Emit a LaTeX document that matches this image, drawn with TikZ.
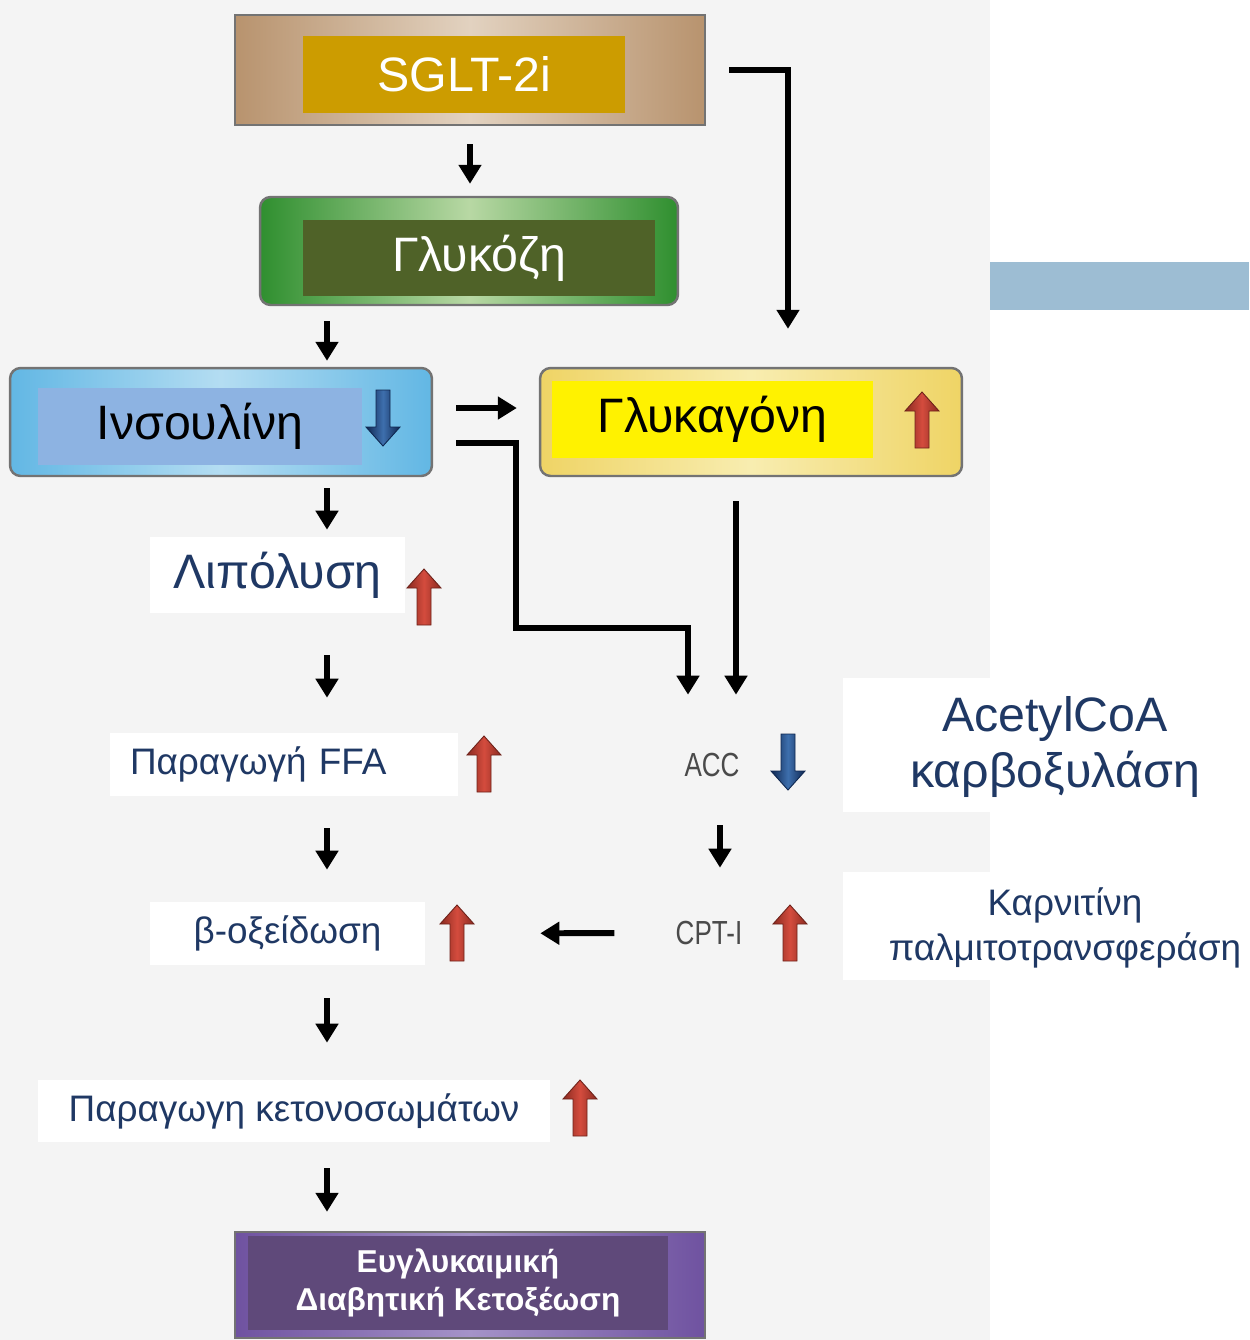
\documentclass[tikz,border=0pt]{standalone}
\usepackage{fontspec}
\setmainfont{Liberation Sans}
\usetikzlibrary{arrows.meta,positioning}

\definecolor{panelgrey}{HTML}{F4F4F4}
\definecolor{barblue}{HTML}{9DBDD3}
\definecolor{sglttan}{HTML}{B8936E}
\definecolor{sgltlight}{HTML}{E2D2C0}
\definecolor{sgltgold}{HTML}{CC9C00}
\definecolor{glucgreen}{HTML}{2F8F2F}
\definecolor{gluclight}{HTML}{B8D8A4}
\definecolor{glucolive}{HTML}{4F6228}
\definecolor{insblue}{HTML}{62B7E4}
\definecolor{inslight}{HTML}{B4DDF2}
\definecolor{insinner}{HTML}{8DB3E2}
\definecolor{glucayellow}{HTML}{EFD465}
\definecolor{glucalight}{HTML}{F8EDB0}
\definecolor{purpleout}{HTML}{6F52A0}
\definecolor{purplelight}{HTML}{A593C8}
\definecolor{purplein}{HTML}{5F497A}
\definecolor{navytext}{HTML}{1F3864}
\definecolor{accgrey}{HTML}{4A4A4A}
\definecolor{reddark}{HTML}{8A2A20}
\definecolor{redmid}{HTML}{D44C3E}
\definecolor{bluedark}{HTML}{0F2750}
\definecolor{bluemid}{HTML}{3E6FAE}

\tikzset{
  outerbox/.style={draw=black!55, line width=1.4pt, minimum width=8.44cm, minimum height=2.16cm},
  innerbox/.style={inner sep=0pt},
  bigtext/.style={font=\fontsize{27.5}{32}\selectfont},
  midtext/.style={font=\fontsize{21}{25.5}\selectfont, text=navytext},
  smalltext/.style={font=\fontsize{19}{20}\selectfont, text=accgrey, xscale=0.78, inner sep=0pt, minimum height=1.3cm},
  whitebox/.style={fill=white, inner sep=0pt},
  arr/.style={line width=3.4pt, -{Triangle[length=0.38cm, width=0.44cm]}},
  redup/.pic={
    \draw[draw=reddark!80!black, line width=0.5pt, left color=reddark, right color=reddark, middle color=redmid]
      (-7,28) -- (-7,-9) -- (-17,-9) -- (0,-28) -- (17,-9) -- (7,-9) -- (7,28) -- cycle;
  },
  bluedown/.pic={
    \draw[draw=bluedark, line width=0.5pt, left color=bluedark, right color=bluedark, middle color=bluemid]
      (-7,-28) -- (-7,9) -- (-17,9) -- (0,28) -- (17,9) -- (7,9) -- (7,-28) -- cycle;
  }
}

\begin{document}
\begin{tikzpicture}[x=0.02cm, y=-0.02cm]
  \useasboundingbox (0,0) rectangle (1249,1340);
  \fill[panelgrey] (0,0) rectangle (990,1340);
  \fill[barblue] (990,262) rectangle (1249,310);

  % top boxes
  \node[outerbox, minimum width=9.4cm, minimum height=2.2cm, left color=sglttan, right color=sglttan, middle color=sgltlight] (sgltbox) at (470,70) {};
  \node[innerbox, fill=sgltgold, minimum width=6.44cm, minimum height=1.54cm, bigtext, text=white] (sglt) at (464,74.5) {SGLT-2i};

  \node[outerbox, rounded corners=6pt, minimum width=8.36cm, left color=glucgreen, right color=glucgreen, middle color=gluclight] (glucbox) at (469,251) {};
  \node[innerbox, fill=glucolive, minimum width=7.04cm, minimum height=1.52cm, bigtext, text=white] (gluc) at (479,258) {Γλυκόζη};

  \node[outerbox, rounded corners=6pt, left color=insblue, right color=insblue, middle color=inslight] (insbox) at (221,422) {};
  \node[innerbox, fill=insinner, minimum width=6.48cm, minimum height=1.54cm, bigtext] (ins) at (200,426.5) {Ινσουλίνη};
  \pic at (383,418) {bluedown};

  \node[outerbox, rounded corners=6pt, left color=glucayellow, right color=glucayellow, middle color=glucalight] (glucabox) at (751,422) {};
  \node[innerbox, fill=yellow, minimum width=6.42cm, minimum height=1.54cm, bigtext] (gluca) at (712.5,419.5) {Γλυκαγόνη};
  \pic at (922,420) {redup};

  % left column
  \coordinate (col) at (327,0);
  \node[whitebox, minimum width=5.1cm, minimum height=1.52cm, bigtext, text=navytext] (lipo) at (277.5,575) {Λιπόλυση};
  \pic at (424,597) {redup};
  \node[whitebox, minimum width=6.96cm, minimum height=1.26cm, midtext, inner xsep=0.4cm, text width=6.16cm, align=left] (ffa) at (284,764.5) {Παραγωγή FFA};
  \pic at (484,764) {redup};
  \node[whitebox, minimum width=5.5cm, minimum height=1.26cm, midtext] (beta) at (287.5,933.5) {β-οξείδωση};
  \pic at (457,933) {redup};
  \node[whitebox, minimum width=10.24cm, minimum height=1.24cm, midtext] (keto) at (294,1111) {Παραγωγη κετονοσωμάτων};
  \pic at (580,1108) {redup};

  \node[outerbox, minimum width=9.4cm, minimum height=2.12cm, left color=purpleout, right color=purpleout, middle color=purplelight] (dkabox) at (470,1285) {};
  \node[innerbox, fill=purplein, minimum width=8.4cm, minimum height=1.88cm, text=white, align=center, font=\bfseries\fontsize{18}{21.5}\selectfont] (dka) at (458,1283) {Ευγλυκαιμική\\Διαβητική Κετοξέωση};

  % right column
  \node[smalltext] (acc) at (712,765) {ACC};
  \pic at (788,762) {bluedown};
  \node[smalltext] (cpt) at (709,933) {CPT-I};
  \pic at (790,933) {redup};
  \node[whitebox, minimum width=8.12cm, minimum height=2.68cm] (accbox) at (1046,745) {};
  \node[bigtext, text=navytext, align=center] (acctxt) at (1055,747) {AcetylCoA\\καρβοξυλάση};
  \node[whitebox, minimum width=8.12cm, minimum height=2.16cm] (cptbox) at (1046,926) {};
  \node[midtext, align=center] (cpttxt) at (1065,928) {Καρνιτίνη\\παλμιτοτρανσφεράση};

  % connectors
  \draw[arr, shorten <=0.36cm, shorten >=0.24cm] (sgltbox.south) -- (sgltbox.south |- glucbox.north);
  \draw[arr] ([xshift=0.46cm]sgltbox.east) -| ([xshift=0.74cm, yshift=0.76cm]glucabox.north);
  \draw[arr, shorten <=0.3cm, shorten >=0.12cm] (glucbox.south -| col) -- (insbox.north -| col);
  \draw[arr, shorten <=0.46cm, shorten >=0.44cm] ([yshift=0.28cm]insbox.east) -- ([yshift=0.28cm]glucabox.west);
  \draw[arr, shorten >=0.75cm] ([xshift=0.46cm, yshift=-0.42cm]insbox.east) -- ++(60,0) -- ++(0,185) -| ([xshift=-0.48cm]acc.north);
  \coordinate (gdown) at ([xshift=-0.3cm]glucabox.south);
  \draw[arr, shorten <=0.48cm, shorten >=0.75cm] (gdown) -- (gdown |- acc.north);
  \draw[arr, shorten <=0.22cm, shorten >=0.14cm] (insbox.south -| col) -- (lipo.north -| col);
  \draw[arr, shorten <=0.84cm, shorten >=0.7cm] (lipo.south -| col) -- (ffa.north -| col);
  \draw[arr, shorten <=0.64cm, shorten >=0.64cm] (ffa.south -| col) -- (beta.north -| col);
  \draw[arr, shorten <=0.66cm, shorten >=0.74cm] (beta.south -| col) -- (keto.north -| col);
  \draw[arr, shorten <=0.52cm, shorten >=0.38cm] (keto.south -| col) -- (dkabox.north -| col);
  \draw[arr, shorten <=0.55cm, shorten >=0.65cm] ([xshift=0.16cm]acc.south) -- ([xshift=0.16cm]acc.south |- cpt.north);
  \draw[arr, shorten <=1.22cm, shorten >=2.3cm] (cpt.west) -- (beta.east);
\end{tikzpicture}
\end{document}
